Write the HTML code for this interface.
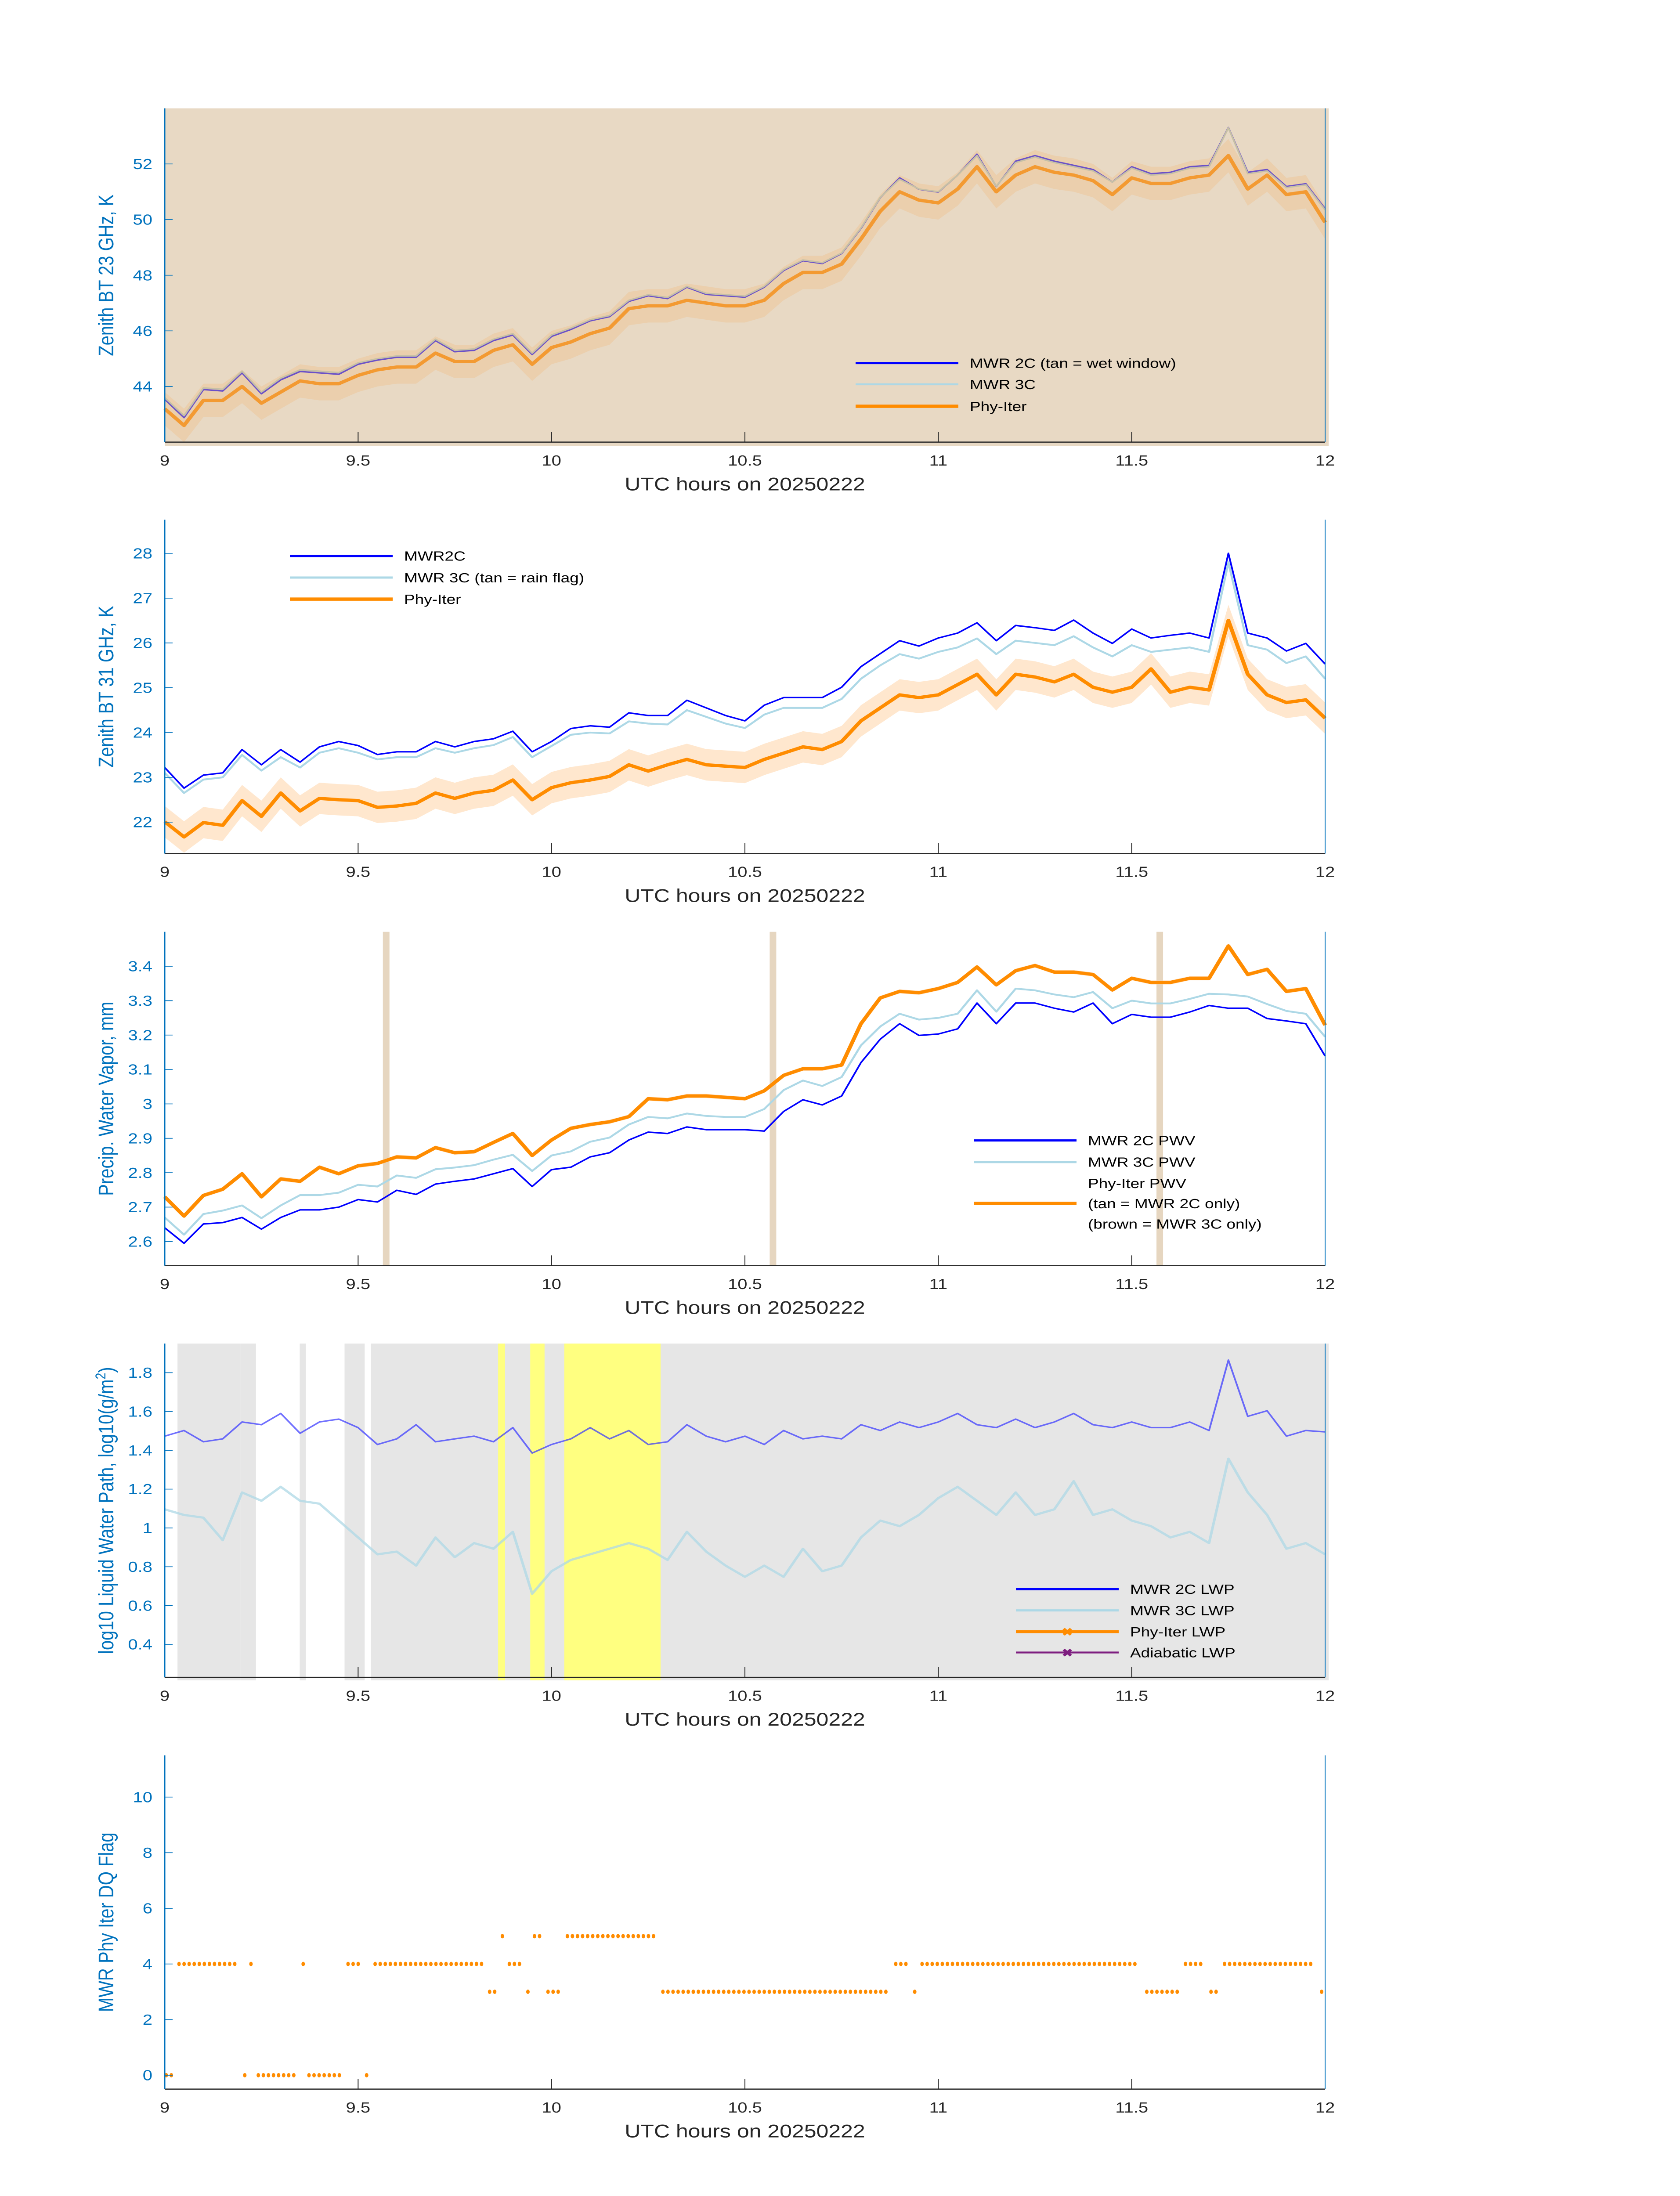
<!DOCTYPE html>
<html><head><meta charset="utf-8"><style>
html,body{margin:0;padding:0;background:#fff;width:100vw;height:100vh;overflow:hidden}
svg{display:block;position:fixed;left:0;top:0;width:100vw;height:100vh}
text{font-family:"Liberation Sans","DejaVu Sans",sans-serif}
</style></head><body>
<svg id="chart" viewBox="0 0 3825 6000" preserveAspectRatio="none" xmlns="http://www.w3.org/2000/svg"></svg>
<script>
const hours=[9,9.05,9.1,9.15,9.2,9.25,9.3,9.35,9.4,9.45,9.5,9.55,9.6,9.65,9.7,9.75,9.8,9.85,9.9,9.95,10,10.05,10.1,10.15,10.2,10.25,10.3,10.35,10.4,10.45,10.5,10.55,10.6,10.65,10.7,10.75,10.8,10.85,10.9,10.95,11,11.05,11.1,11.15,11.2,11.25,11.3,11.35,11.4,11.45,11.5,11.55,11.6,11.65,11.7,11.75,11.8,11.85,11.9,11.95,12];
const xTicks=[9,9.5,10,10.5,11,11.5,12];
const xTickLabels=["9","9.5","10","10.5","11","11.5","12"];
// Panel 1: 23 GHz
const bt23_2c=[43.54,42.88,43.89,43.84,44.49,43.74,44.24,44.54,44.49,44.44,44.80,44.95,45.05,45.05,45.65,45.25,45.30,45.65,45.85,45.15,45.80,46.05,46.36,46.51,47.06,47.26,47.16,47.57,47.31,47.26,47.21,47.57,48.17,48.52,48.42,48.78,49.68,50.79,51.50,51.09,50.99,51.60,52.35,51.19,52.10,52.30,52.10,51.95,51.80,51.35,51.90,51.65,51.70,51.90,51.95,53.31,51.70,51.80,51.19,51.29,50.39];
const bt23_3c=[43.6,42.95,43.95,43.9,44.55,43.8,44.3,44.6,44.55,44.5,44.85,45.0,45.1,45.1,45.7,45.3,45.35,45.7,45.9,45.2,45.85,46.1,46.4,46.55,47.1,47.3,47.2,47.6,47.35,47.3,47.25,47.6,48.2,48.55,48.45,48.8,49.7,50.8,51.45,51.1,51.0,51.6,52.3,51.2,52.05,52.25,52.05,51.9,51.75,51.35,51.85,51.6,51.65,51.85,51.9,53.3,51.65,51.75,51.15,51.25,50.35];
const bt23_phy=[43.2,42.6,43.5,43.5,44.0,43.4,43.8,44.2,44.1,44.1,44.4,44.6,44.7,44.7,45.2,44.9,44.9,45.3,45.5,44.8,45.4,45.6,45.9,46.1,46.8,46.9,46.9,47.1,47.0,46.9,46.9,47.1,47.7,48.1,48.1,48.4,49.3,50.3,51.0,50.7,50.6,51.1,51.9,51.0,51.6,51.9,51.7,51.6,51.4,50.9,51.5,51.3,51.3,51.5,51.6,52.3,51.1,51.6,50.9,51.0,49.9];
const bt23_unc=0.6;
// Panel 2: 31 GHz
const bt31_2c=[23.22,22.76,23.05,23.10,23.62,23.28,23.62,23.34,23.68,23.80,23.71,23.51,23.57,23.57,23.80,23.68,23.80,23.86,24.03,23.57,23.80,24.09,24.15,24.12,24.44,24.38,24.38,24.72,24.55,24.38,24.26,24.61,24.78,24.78,24.78,25.01,25.47,25.76,26.05,25.93,26.11,26.22,26.45,26.05,26.39,26.34,26.28,26.51,26.22,25.99,26.31,26.11,26.17,26.22,26.11,28.0,26.22,26.11,25.82,25.99,25.53];
const bt31_3c=[23.1,22.65,22.95,23.0,23.5,23.15,23.45,23.22,23.55,23.65,23.55,23.4,23.45,23.45,23.65,23.55,23.65,23.72,23.9,23.45,23.7,23.95,24.0,23.98,24.25,24.2,24.18,24.5,24.35,24.2,24.1,24.4,24.55,24.55,24.55,24.75,25.2,25.5,25.75,25.65,25.8,25.9,26.1,25.75,26.05,26.0,25.95,26.15,25.9,25.7,25.95,25.8,25.85,25.9,25.8,27.8,25.95,25.85,25.55,25.7,25.2];
const bt31_phy=[22.01,21.67,21.99,21.93,22.48,22.13,22.65,22.25,22.53,22.50,22.48,22.33,22.36,22.42,22.65,22.53,22.65,22.71,22.94,22.50,22.77,22.88,22.94,23.02,23.28,23.14,23.28,23.40,23.28,23.25,23.22,23.40,23.54,23.68,23.62,23.80,24.26,24.55,24.84,24.78,24.84,25.07,25.30,24.84,25.30,25.24,25.13,25.30,25.01,24.90,25.01,25.42,24.90,25.01,24.95,26.5,25.30,24.84,24.67,24.73,24.32];
const bt31_unc=0.35;
// Panel 3: PWV
const pwv_2c=[2.640,2.595,2.651,2.655,2.670,2.636,2.670,2.692,2.692,2.700,2.722,2.715,2.749,2.737,2.767,2.775,2.782,2.797,2.812,2.760,2.809,2.816,2.846,2.858,2.895,2.918,2.914,2.933,2.925,2.925,2.925,2.921,2.978,3.012,2.997,3.023,3.120,3.188,3.233,3.199,3.203,3.218,3.293,3.233,3.293,3.293,3.278,3.267,3.293,3.233,3.260,3.252,3.252,3.267,3.286,3.278,3.278,3.248,3.241,3.233,3.139];
const pwv_3c=[2.670,2.620,2.680,2.690,2.705,2.668,2.705,2.735,2.735,2.742,2.765,2.760,2.792,2.785,2.810,2.815,2.822,2.838,2.852,2.805,2.850,2.862,2.890,2.902,2.940,2.962,2.958,2.972,2.965,2.962,2.962,2.985,3.040,3.068,3.052,3.078,3.170,3.225,3.262,3.245,3.250,3.262,3.330,3.268,3.335,3.330,3.318,3.310,3.325,3.278,3.300,3.292,3.292,3.305,3.320,3.318,3.312,3.290,3.270,3.262,3.195];
const pwv_phy=[2.730,2.674,2.734,2.752,2.797,2.730,2.782,2.775,2.816,2.797,2.820,2.827,2.846,2.843,2.873,2.858,2.861,2.888,2.914,2.850,2.895,2.929,2.940,2.948,2.963,3.015,3.012,3.023,3.023,3.019,3.015,3.038,3.083,3.102,3.102,3.113,3.233,3.308,3.327,3.323,3.335,3.353,3.398,3.346,3.387,3.402,3.383,3.383,3.376,3.331,3.365,3.353,3.353,3.365,3.365,3.459,3.376,3.391,3.327,3.335,3.229];
const pwvFlagHours=[9.572,10.572,11.572];
// Panel 4: LWP
const lwp_2c=[1.473,1.502,1.444,1.459,1.546,1.532,1.590,1.488,1.546,1.561,1.517,1.430,1.459,1.532,1.444,1.459,1.473,1.444,1.517,1.386,1.430,1.459,1.517,1.459,1.502,1.430,1.444,1.532,1.473,1.444,1.473,1.430,1.502,1.459,1.473,1.459,1.532,1.502,1.546,1.517,1.546,1.590,1.532,1.517,1.561,1.517,1.546,1.590,1.532,1.517,1.546,1.517,1.517,1.546,1.502,1.865,1.575,1.604,1.473,1.502,1.495];
const lwp_3c=[1.096,1.067,1.053,0.937,1.183,1.140,1.212,1.140,1.125,1.038,0.951,0.864,0.878,0.806,0.951,0.849,0.922,0.893,0.980,0.661,0.777,0.835,0.864,0.893,0.922,0.893,0.835,0.980,0.878,0.806,0.748,0.806,0.748,0.893,0.777,0.806,0.951,1.038,1.009,1.067,1.154,1.212,1.140,1.067,1.183,1.067,1.096,1.241,1.067,1.096,1.038,1.009,0.951,0.980,0.922,1.357,1.183,1.067,0.893,0.922,0.864];
const greyStart=[9.033,9.196,9.349,9.465,9.533];
const greyEnd=[9.196,9.236,9.365,9.517,12.0];
const yellowStart=[9.862,9.945,10.033];
const yellowEnd=[9.880,9.982,10.282];
// Panel 5: DQ flag runs
const flagStart=[9.004,9.037,9.207,9.223,9.242,9.358,9.373,9.474,9.522,9.544,9.840,9.873,9.891,9.939,9.956,9.991,10.041,10.288,10.890,10.939,10.958,11.539,11.639,11.705,11.740,11.991];
const flagEnd  =[9.022,9.190,9.207,9.223,9.338,9.358,9.456,9.507,9.522,9.823,9.858,9.873,9.921,9.939,9.974,10.022,10.275,10.871,10.921,10.939,11.521,11.624,11.687,11.720,11.971,12.004];
const flagValue=[0,4,0,4,0,4,0,4,0,4,3,5,4,3,5,3,5,3,4,3,4,3,4,3,4,3];
const flagStep=0.0131;

const NS="http://www.w3.org/2000/svg";
const svg=document.getElementById('chart');
const X0=375,X1=3017,H=912;
function el(tag,attrs,parent){const e=document.createElementNS(NS,tag);for(const k in attrs)e.setAttribute(k,attrs[k]);(parent||svg).appendChild(e);return e;}
function xs(h){return X0+(h-9)/3*(X1-X0);}
function mkY(top,lo,hi){return v=>top+(hi-v)/(hi-lo)*H;}
function pathOf(arr,y){return arr.map((v,i)=>(i?'L':'M')+xs(hours[i]).toFixed(1)+' '+y(v).toFixed(1)).join(' ');}
function bandOf(arr,unc,y){let d='';arr.forEach((v,i)=>{d+=(i?'L':'M')+xs(hours[i]).toFixed(1)+' '+y(v+unc).toFixed(1);});for(let i=arr.length-1;i>=0;i--)d+='L'+xs(hours[i]).toFixed(1)+' '+y(arr[i]-unc).toFixed(1);return d+'Z';}

function axes(g,top,y,ticks,labels,ylabel){
  const bottom=top+H;
  for(let i=0;i<xTicks.length;i++){
    const t=el('line',{x1:xs(xTicks[i]),x2:xs(xTicks[i]),y1:bottom,y2:bottom-28,stroke:'#262626','stroke-width':2},g);
    
    
    const tl=el('text',{x:xs(xTicks[i]),y:bottom+64,'font-size':40,fill:'#262626','text-anchor':'middle'},g);
    tl.textContent=xTickLabels[i];
    
    
  }
  for(let i=0;i<ticks.length;i++){
    const yy=y(ticks[i]);
    const t=el('line',{x1:X0,x2:X0+18,y1:yy,y2:yy,stroke:'#0072BD','stroke-width':2},g);
    
    
    const tl=el('text',{x:X0-28,y:yy+14,'font-size':40,fill:'#0072BD','text-anchor':'end'},g);
    tl.textContent=labels[i];
    
    
  }
  const bl=el('line',{x1:X0,x2:X1,y1:bottom,y2:bottom,stroke:'#262626','stroke-width':3},g);
  
  
  const ll=el('line',{x1:X0,x2:X0,y1:top,y2:bottom,stroke:'#0072BD','stroke-width':3},g);
  
  
  const rl=el('line',{x1:X1,x2:X1,y1:top,y2:bottom,stroke:'#0072BD','stroke-width':2},g);
  
  
  const xl=el('text',{x:(X0+X1)/2,y:bottom+132,'font-size':50,fill:'#262626','text-anchor':'middle'},g);
  xl.textContent='UTC hours on 20250222';
  
  
  const yl=el('text',{x:0,y:0,'font-size':48,fill:'#0072BD','text-anchor':'middle',transform:`translate(258,${top+H/2}) rotate(-90)`},g);
  if(ylabel.sup){yl.appendChild(document.createTextNode(ylabel.t));const ts=el('tspan',{dy:-18,'font-size':32},yl);ts.textContent='2';const t2=el('tspan',{dy:18},yl);t2.textContent=')';}
  else yl.textContent=ylabel.t;
  
  
}
function legend(g,x,ys,items){
  items.forEach((it,i)=>{
    if(it.color){
      const l=el('line',{x1:x,x2:x+234,y1:ys[i],y2:ys[i],stroke:it.color,'stroke-width':it.w},g);
      
      
      if(it.mark){const m=el('text',{x:x+117,y:ys[i]+12,'font-size':32,fill:it.color,'text-anchor':'middle','font-weight':'bold'},g);m.textContent='✖';
        
        }
    }
    const t=el('text',{x:x+260,y:ys[i]+13,'font-size':37,fill:'#000'},g);
    t.textContent=it.label;
    
    
  });
}
function lineSeries(g,arr,y,color,w,name,op){
  const p=el('path',{d:pathOf(arr,y),fill:'none',stroke:color,'stroke-width':w,'stroke-linejoin':'round','stroke-opacity':op||1},g);
  
  
}

// ---- Panel 1
{
  const top=296,y=mkY(top,42,54);
  const g=el('g',{});
  
  
  const bg=el('rect',{x:X0,y:top,width:X1-X0+8,height:H+10,fill:'#E8D9C4'},g);
  
  
  const b=el('path',{d:bandOf(bt23_phy,bt23_unc,y),fill:'#F0BE85','fill-opacity':0.35},g);
  
  
  lineSeries(g,bt23_phy,y,'#F39A32',9,'phy-iter-line');
  lineSeries(g,bt23_2c,y,'#6A50C8',4,'mwr-2c-line');
  lineSeries(g,bt23_3c,y,'#C6C0A6',4,'mwr-3c-line');
  axes(g,top,y,[44,46,48,50,52],['44','46','48','50','52'],{t:'Zenith BT 23 GHz, K'});
  legend(g,1948,[992,1050,1110],[{color:'#0000FF',w:6,label:'MWR 2C (tan = wet window)'},{color:'#ADD8E6',w:5,label:'MWR 3C'},{color:'#FF8C00',w:9,label:'Phy-Iter'}]);
}
// ---- Panel 2
{
  const top=1420,y=mkY(top,21.3,28.75);
  const g=el('g',{});
  
  
  const b=el('path',{d:bandOf(bt31_phy,bt31_unc,y),fill:'#FFD3A6','fill-opacity':0.55},g);
  
  
  lineSeries(g,bt31_2c,y,'#0000FF',4,'mwr-2c-line');
  lineSeries(g,bt31_3c,y,'#ADD8E6',5,'mwr-3c-line');
  lineSeries(g,bt31_phy,y,'#FF8C00',9,'phy-iter-line');
  axes(g,top,y,[22,23,24,25,26,27,28],['22','23','24','25','26','27','28'],{t:'Zenith BT 31 GHz, K'});
  legend(g,660,[1519,1578,1637],[{color:'#0000FF',w:6,label:'MWR2C'},{color:'#ADD8E6',w:6,label:'MWR 3C (tan = rain flag)'},{color:'#FF8C00',w:9,label:'Phy-Iter'}]);
}
// ---- Panel 3
{
  const top=2546,y=mkY(top,2.53,3.50);
  const g=el('g',{});
  
  
  pwvFlagHours.forEach(h=>{const r=el('rect',{x:xs(h)-7,y:top,width:15,height:H,fill:'#E6D6C0'},g);
    
    });
  const b=el('path',{d:bandOf(pwv_phy,0.006,y),fill:'#FFD3A6','fill-opacity':0.6},g);
  
  
  lineSeries(g,pwv_2c,y,'#0000FF',4,'mwr-2c-pwv-line');
  lineSeries(g,pwv_3c,y,'#ADD8E6',5,'mwr-3c-pwv-line');
  lineSeries(g,pwv_phy,y,'#FF8C00',9,'phy-iter-pwv-line');
  axes(g,top,y,[2.6,2.7,2.8,2.9,3.0,3.1,3.2,3.3,3.4],['2.6','2.7','2.8','2.9','3','3.1','3.2','3.3','3.4'],{t:'Precip. Water Vapor, mm'});
  legend(g,2217,[3116,3175,3233,3288,3344],[{color:'#0000FF',w:6,label:'MWR 2C PWV'},{color:'#ADD8E6',w:6,label:'MWR 3C PWV'},{color:null,label:'Phy-Iter PWV'},{color:'#FF8C00',w:9,label:'(tan = MWR 2C only)'},{color:null,label:'(brown = MWR 3C only)'}]);
}
// ---- Panel 4
{
  const top=3671,y=mkY(top,0.23,1.95);
  const g=el('g',{});
  
  
  for(let i=0;i<greyStart.length;i++){const r=el('rect',{x:xs(greyStart[i]),y:top,width:xs(greyEnd[i])-xs(greyStart[i])+(i==greyStart.length-1?8:0),height:H+8,fill:'#E6E6E6'},g);
    
    }
  for(let i=0;i<yellowStart.length;i++){const r=el('rect',{x:xs(yellowStart[i]),y:top,width:xs(yellowEnd[i])-xs(yellowStart[i]),height:H+8,fill:'#FFFF80'},g);
    
    }
  lineSeries(g,lwp_3c,y,'#ADD8E6',6,'mwr-3c-lwp-line',0.75);
  lineSeries(g,lwp_2c,y,'#3333FF',4,'mwr-2c-lwp-line',0.7);
  axes(g,top,y,[0.4,0.6,0.8,1.0,1.2,1.4,1.6,1.8],['0.4','0.6','0.8','1','1.2','1.4','1.6','1.8'],{t:'log10 Liquid Water Path, log10(g/m',sup:true});
  legend(g,2313,[4342,4400,4458,4515],[{color:'#0000FF',w:6,label:'MWR 2C LWP'},{color:'#ADD8E6',w:6,label:'MWR 3C LWP'},{color:'#FF8C00',w:8,label:'Phy-Iter LWP',mark:true},{color:'#7E1E80',w:5,label:'Adiabatic LWP',mark:true}]);
}
// ---- Panel 5
{
  const top=4796,y=mkY(top,-0.5,11.5);
  const g=el('g',{});
  
  
  for(let i=0;i<flagStart.length;i++){
    for(let h=flagStart[i];h<=flagEnd[i]+1e-6;h+=flagStep){
      const c=el('ellipse',{cx:xs(h),cy:y(flagValue[i]),rx:4,ry:6,fill:'#FF8C00'},g);
      
      
    }
  }
  axes(g,top,y,[0,2,4,6,8,10],['0','2','4','6','8','10'],{t:'MWR Phy Iter DQ Flag'});
}
</script>
</body></html>
